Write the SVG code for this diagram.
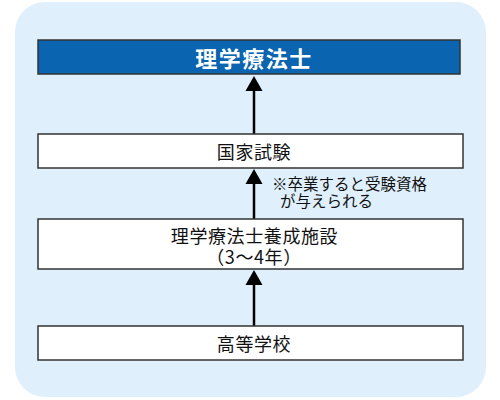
<svg xmlns="http://www.w3.org/2000/svg" width="500" height="400" viewBox="0 0 500 400">
  <style>
    .box { fill: #ffffff; stroke: #333333; stroke-width: 1.5; }
    .title { fill: #0a64b0; stroke: #333333; stroke-width: 1.5; }
    .t { font-family: "Noto Sans CJK JP", "Noto Sans", sans-serif; font-size: 18px; fill: #111111; text-anchor: middle; dominant-baseline: central; letter-spacing: 0.6px; }
    .tw { font-family: "Noto Sans CJK JP", "Noto Sans", sans-serif; font-size: 22px; font-weight: bold; fill: #ffffff; text-anchor: middle; dominant-baseline: central; letter-spacing: 1.5px; }
    .note { font-family: "Noto Sans CJK JP", "Noto Sans", sans-serif; font-size: 15.5px; fill: #111111; dominant-baseline: central; }
    .conn { stroke: #000000; stroke-width: 2.5; fill: none; }
    .head { fill: #000000; }
  </style>
  <rect x="15" y="2" width="471" height="395" rx="30" ry="30" fill="#dff0fc"/>

  <g id="connectors">
    <line class="conn" x1="254" y1="134" x2="254" y2="90"/>
    <polygon class="head" points="254,76 245.5,91 262.5,91"/>
    <line class="conn" x1="254" y1="219" x2="254" y2="183"/>
    <polygon class="head" points="254,169 245.5,184 262.5,184"/>
    <line class="conn" x1="254" y1="326" x2="254" y2="284"/>
    <polygon class="head" points="254,270 245.5,285 262.5,285"/>
  </g>

  <g id="node-pt">
    <rect class="title" x="38" y="40" width="422" height="34"/>
    <text class="tw" x="254" y="57">理学療法士</text>
  </g>

  <g id="node-exam">
    <rect class="box" x="38" y="134" width="425" height="34"/>
    <text class="t" x="254" y="150.5">国家試験</text>
  </g>

  <g id="note">
    <text class="note"><tspan x="272" y="182.5">※卒業すると受験資格</tspan><tspan x="280" y="200">が与えられる</tspan></text>
  </g>

  <g id="node-school">
    <rect class="box" x="38" y="219" width="425" height="50"/>
    <text class="t"><tspan x="254.5" y="235">理学療法士養成施設</tspan><tspan x="254" y="256">（3～4年）</tspan></text>
  </g>

  <g id="node-highschool">
    <rect class="box" x="38" y="326" width="425" height="34"/>
    <text class="t" x="254" y="343">高等学校</text>
  </g>
</svg>
